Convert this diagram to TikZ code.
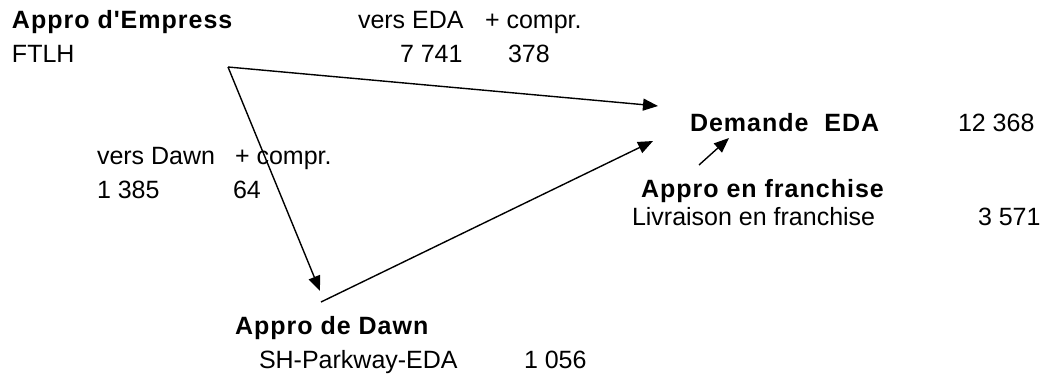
\documentclass[tikz,border=0pt]{standalone}
\usepackage{fontspec}
\setmainfont{Liberation Sans}[Ligatures=TeXOff,BoldFeatures={LetterSpace=4}]
\usetikzlibrary{arrows.meta}
\begin{document}
\begin{tikzpicture}[x=1pt,y=-1pt,
  txt/.style={anchor=base west,inner sep=0pt,outer sep=0pt,font=\fontsize{25}{29}\selectfont},
  btxt/.style={txt,font=\fontsize{25}{29}\selectfont\bfseries},
  flow/.style={line width=1.4pt,-{Triangle[length=15pt,width=12pt]}}]
\useasboundingbox (0,0) rectangle (1045,375);
% Empress
\node[btxt] (empT) at (12,28) {Appro d'Empress};
\node[txt] (ftlh) at (12,62) {FTLH};
\node[txt] (versEDA) at (358,28) {vers EDA};
\node[txt] (comprE) at (485,28) {+ compr.};
\node[txt] (v7741) at (400,62) {7 741};
\node[txt] (v378) at (508,62) {378};
% Dawn flow labels
\node[txt] (versDawn) at (97,164) {vers Dawn};
\node[txt] (comprD) at (235,164) {+ compr.};
\node[txt] (v1385) at (97,198) {1 385};
\node[txt] (v64) at (233,198) {64};
% Demande
\node[btxt] (dem) at (690,131) {Demande\ \ EDA};
\node[txt] (v12368) at (958,131) {12 368};
% Franchise
\node[btxt] (franT) at (641,197) {Appro en franchise};
\node[txt] (livr) at (632,225) {Livraison en franchise};
\node[txt] (v3571) at (978,225) {3 571};
% Dawn
\node[btxt] (dawnT) at (235,334) {Appro de Dawn};
\node[txt] (shp) at (259,368) {SH-Parkway-EDA};
\node[txt] (v1056) at (524,368) {1 056};
% connector ends
\coordinate (eOut) at (228,67);
\coordinate (demIn1) at (658,106);
\coordinate (dawnIn) at (320,291);
\coordinate (dawnOut) at (321,302);
\coordinate (demIn2) at (653,141);
\coordinate (franOut) at (699,165);
\coordinate (demIn3) at (729,138);
\draw[flow] (eOut) -- (demIn1);
\draw[flow] (eOut) -- (dawnIn);
\draw[flow] (dawnOut) -- (demIn2);
\draw[flow] (franOut) -- (demIn3);
\end{tikzpicture}
\end{document}
